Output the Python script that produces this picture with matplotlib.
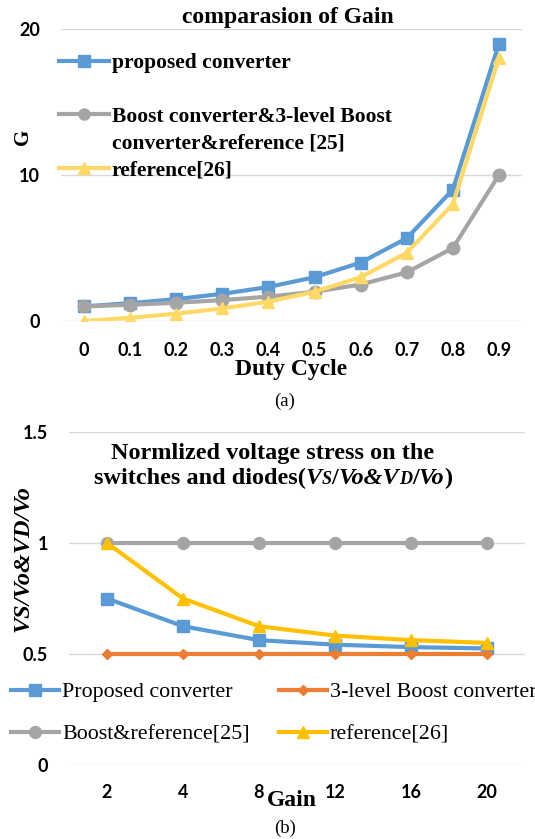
import matplotlib
matplotlib.use("Agg")
import matplotlib.pyplot as plt
from matplotlib.lines import Line2D

# ---- data (a) ----
duty = ["0", "0.1", "0.2", "0.3", "0.4", "0.5", "0.6", "0.7", "0.8", "0.9"]
gain_proposed = [1.0, 1.22, 1.5, 1.86, 2.33, 3.0, 4.0, 5.67, 9.0, 19.0]
gain_boost = [1.0, 1.11, 1.25, 1.43, 1.67, 2.0, 2.5, 3.33, 5.0, 10.0]
gain_ref26 = [0.0, 0.22, 0.5, 0.86, 1.33, 2.0, 3.0, 4.67, 8.0, 18.0]
yticks_a = [0, 10, 20]

# ---- data (b) ----
gains = ["2", "4", "8", "12", "16", "20"]
vs_proposed = [0.75, 0.625, 0.5625, 0.542, 0.531, 0.525]
vs_3level = [0.5, 0.5, 0.5, 0.5, 0.5, 0.5]
vs_boost = [1.0, 1.0, 1.0, 1.0, 1.0, 1.0]
vs_ref26 = [1.0, 0.75, 0.625, 0.583, 0.5625, 0.55]
yticks_b = [0, 0.5, 1, 1.5]
yticklabels_b = ["0", "0.5", "1", "1.5"]

BLUE = "#5B9BD5"
GRAY = "#A5A5A5"
LYEL = "#FFD966"
YEL = "#FFC000"
ORNG = "#ED7D31"
GRID = "#D9D9D9"

SERIF = "Liberation Serif"
TICKF = "Lato"

W, H = 535, 839
fig = plt.figure(figsize=(W / 100, H / 100), dpi=100)


def fx(px):
    return px / W


def fy(py):
    return 1 - py / H


def style_axes(ax):
    for s in ax.spines.values():
        s.set_visible(False)
    ax.yaxis.grid(True, color=GRID, lw=1.0)
    ax.set_axisbelow(True)
    ax.tick_params(length=0)
    for lab in ax.get_xticklabels() + ax.get_yticklabels():
        lab.set_fontfamily(TICKF)
        lab.set_fontweight("bold")
        lab.set_fontsize(13)


# ---------------- chart (a) ----------------
axa = fig.add_axes([fx(61), fy(321), fx(522) - fx(61), fy(29) - fy(321)])
xa = list(range(len(duty)))
axa.plot(xa, gain_proposed, color=BLUE, lw=3, marker="s", ms=9)
axa.plot(xa, gain_boost, color=GRAY, lw=3, marker="o", ms=9)
axa.plot(xa, gain_ref26, color=LYEL, lw=3, marker="^", ms=9)
axa.set_xlim(-0.5, len(duty) - 0.5)
axa.set_ylim(0, 20)
axa.set_xticks(xa)
axa.set_xticklabels(duty)
axa.set_yticks(yticks_a)
axa.tick_params(axis="x", pad=15)
axa.tick_params(axis="y", pad=15)
style_axes(axa)

fig.text(fx(288), fy(17), "comparasion of Gain", ha="center", va="center",
         fontfamily=SERIF, fontweight="bold", fontsize=17)
fig.text(fx(291), fy(370), "Duty Cycle", ha="center", va="center",
         fontfamily=SERIF, fontweight="bold", fontsize=17)
fig.text(fx(23), fy(137), "G", rotation=90, ha="center", va="center",
         fontfamily=SERIF, fontweight="bold", fontsize=15)

blank = Line2D([], [], ls="none")
hA = [Line2D([], [], color=BLUE, lw=3, marker="s", ms=8), blank,
      Line2D([], [], color=GRAY, lw=3, marker="o", ms=8), blank,
      Line2D([], [], color=LYEL, lw=3, marker="^", ms=8)]
lA = ["proposed converter", " ", "Boost converter&3-level Boost",
      "converter&reference [25]", "reference[26]"]
axa.legend(hA, lA, loc="upper left", bbox_to_anchor=(fx(59), fy(53)),
           bbox_transform=fig.transFigure, frameon=False,
           prop={"family": SERIF, "weight": "bold", "size": 15.5},
           handlelength=2.3, handletextpad=0.15, labelspacing=0.31,
           borderpad=0, borderaxespad=0)

fig.text(fx(285), fy(401), "(a)", ha="center", va="center", fontfamily=SERIF, fontsize=13.5)

# ---------------- chart (b) ----------------
axb = fig.add_axes([fx(69), fy(765), fx(525) - fx(69), fy(432) - fy(765)])
xb = list(range(len(gains)))
axb.plot(xb, vs_proposed, color=BLUE, lw=3, marker="s", ms=8)
axb.plot(xb, vs_3level, color=ORNG, lw=3, marker="D", ms=5.5)
axb.plot(xb, vs_boost, color=GRAY, lw=3, marker="o", ms=8.5)
axb.plot(xb, vs_ref26, color=YEL, lw=3, marker="^", ms=9)
axb.set_xlim(-0.5, len(gains) - 0.5)
axb.set_ylim(0, 1.5)
axb.set_xticks(xb)
axb.set_xticklabels(gains)
axb.set_yticks(yticks_b)
axb.set_yticklabels(yticklabels_b)
axb.tick_params(axis="x", pad=14)
axb.tick_params(axis="y", pad=15)
style_axes(axb)

fig.text(fx(273), fy(453), "Normlized voltage stress on the",
         ha="center", va="center", fontfamily=SERIF, fontweight="bold", fontsize=17.5)

# second title line with mixed italic / small parts, centred as a whole
parts = [("switches and diodes(", "normal", 17.5), ("V", "italic", 17.5),
         ("S", "italic", 13), ("/", "normal", 17.5), ("Vo&V", "italic", 17.5),
         ("D", "italic", 13), ("/", "normal", 17.5), ("Vo", "italic", 17.5),
         (")", "normal", 17.5)]
tobjs = [fig.text(0, fy(484), s, ha="left", va="baseline", fontfamily=SERIF,
                  fontweight="bold", fontstyle=st, fontsize=sz) for s, st, sz in parts]
fig.canvas.draw()
r = fig.canvas.get_renderer()
widths = [t.get_window_extent(r).width for t in tobjs]
x0 = 273 - sum(widths) / 2
for t, w in zip(tobjs, widths):
    t.set_x(x0 / W)
    x0 += w

fig.text(fx(23), fy(559), "VS/Vo&VD/Vo", rotation=90, ha="center", va="center",
         fontfamily=SERIF, fontweight="bold", fontstyle="italic", fontsize=17.5)
fig.text(fx(292), fy(800), "Gain", ha="center", va="center",
         fontfamily=SERIF, fontweight="bold", fontsize=17)
fig.text(fx(285), fy(828), "(b)", ha="center", va="center", fontfamily=SERIF, fontsize=13.5)

hB = [Line2D([], [], color=BLUE, lw=3, marker="s", ms=8),
      Line2D([], [], color=GRAY, lw=3, marker="o", ms=8.5),
      Line2D([], [], color=ORNG, lw=3, marker="D", ms=5.5),
      Line2D([], [], color=YEL, lw=3, marker="^", ms=9)]
lB = ["Proposed converter", "Boost&reference[25]", "3-level Boost converter", "reference[26]"]
fig.legend(hB, lB, loc="upper left", bbox_to_anchor=(fx(11), fy(682)),
           frameon=False, ncol=2, prop={"family": SERIF, "size": 15.8},
           handlelength=2.2, handletextpad=0.14, labelspacing=1.0,
           columnspacing=1.3, borderpad=0, borderaxespad=0)

fig.savefig("out.png", dpi=100)
